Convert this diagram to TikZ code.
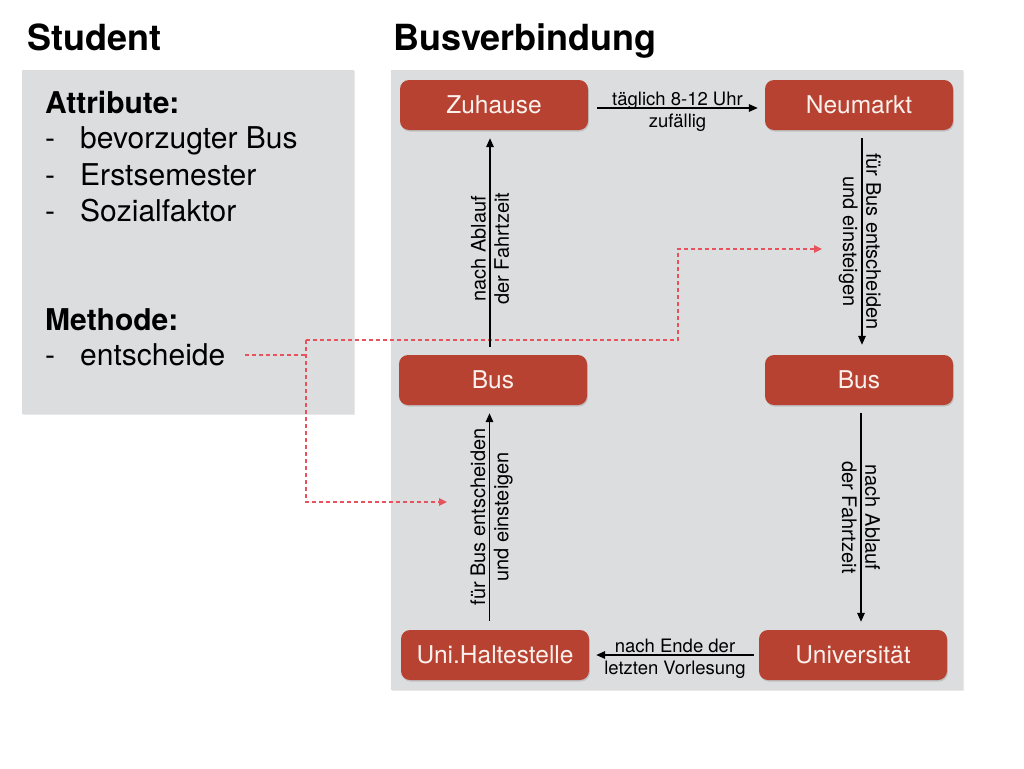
\documentclass[tikz,border=0pt]{standalone}
\usepackage{fontspec}
\setmainfont{TeX Gyre Heros}
\usetikzlibrary{arrows.meta,shadows}
\definecolor{panelgray}{RGB}{220,221,223}
\definecolor{busred}{RGB}{184,66,50}
\definecolor{dashred}{RGB}{232,82,92}
\definecolor{nodetext}{RGB}{250,240,236}
\tikzset{
  panel/.style={fill=panelgray, draw=none, drop shadow={opacity=0.18, shadow xshift=0.8pt, shadow yshift=-1.2pt}},
  station/.style={fill=busred, draw=none, rounded corners=9pt, minimum width=188pt, minimum height=50pt,
    text=nodetext, font=\fontsize{24.5}{28}\selectfont, inner sep=0pt,
    drop shadow={opacity=0.3, shadow xshift=0.8pt, shadow yshift=-1.5pt}},
  flow/.style={line width=1.6pt, -{Triangle[length=9pt,width=7.5pt]}},
  hlbl/.style={font=\fontsize{18.5}{21}\selectfont, inner xsep=0pt},
  htop/.style={hlbl, anchor=south, text depth=0pt, inner ysep=2pt},
  hbot/.style={hlbl, anchor=north, inner ysep=5pt},
  vlbl/.style={font=\fontsize{20}{22}\selectfont, inner xsep=0pt},
  vtop/.style={vlbl, anchor=south, text depth=0pt, inner ysep=3.5pt},
  vbot/.style={vlbl, anchor=north, inner ysep=3.5pt},
  reddash/.style={draw=dashred, line width=1.4pt, dash pattern=on 4pt off 3pt},
  redarrow/.style={reddash, -{Triangle[length=8pt,width=7.5pt]}},
  title/.style={font=\fontsize{36}{40}\selectfont\bfseries, anchor=base west, inner sep=0pt},
  head/.style={font=\fontsize{30}{34}\selectfont\bfseries, anchor=base west, inner sep=0pt},
  item/.style={font=\fontsize{30}{34}\selectfont, anchor=base west, inner sep=0pt},
}
\begin{document}
\begin{tikzpicture}[x=1pt,y=-1pt]
\useasboundingbox[fill=white] (0,0) rectangle (1024,768);

% titles
\node[title] (tstud) at (27,50) {Student};
\node[title] (tbus) at (393,50) {Busverbindung};

% panels
\node[panel, minimum width=332pt, minimum height=344pt, inner sep=0pt] (studpanel) at (188,242) {};
\node[panel, minimum width=572pt, minimum height=620pt, inner sep=0pt] (buspanel) at (677,380) {};

% student text
\node[head] (attr) at (45,113) {Attribute:};
\node[item] (d1) at (45,148) {-};
\node[item] (a1) at (80,148) {bevorzugter Bus};
\node[item] (d2) at (45,185) {-};
\node[item] (a2) at (80,185) {Erstsemester};
\node[item] (d3) at (45,221) {-};
\node[item] (a3) at (80,221) {Sozialfaktor};
\node[head] (meth) at (45,330) {Methode:};
\node[item] (d4) at (45,365) {-};
\node[item] (ent) at (80,365) {entscheide};

% stations
\node[station] (zu) at (494,105) {Zuhause};
\node[station] (neu) at (859,105) {Neumarkt};
\node[station] (busl) at (493,380) {Bus};
\node[station] (busr) at (859,380) {Bus};
\node[station] (uhs) at (495,655) {Uni.Haltestelle};
\node[station] (uni) at (853,655) {Universität};

% red dashed method links
\coordinate (m0) at (245,355);
\coordinate (m1) at (306,355);
\coordinate (c1) at (306,340);
\coordinate (c2) at (678,340);
\coordinate (c3) at (678,249);
\coordinate (t1) at (822,249);
\coordinate (c4) at (306,502);
\coordinate (t2) at (447,502);
\draw[reddash] (m0) -- (m1);
\draw[redarrow] (c1) -- (c4) -- (t2);
\draw[redarrow] (c1) -- (c2) -- (c3) -- (t1);

% flow arrows
\draw[flow] ([xshift=9pt,yshift=-3pt]zu.east) -- node[htop]{täglich 8-12 Uhr} node[hbot]{zufällig} ([xshift=-7pt,yshift=-3pt]neu.west);
\draw[flow] ([xshift=3pt,yshift=-8pt]neu.south) -- node[vtop, rotate=-90]{für Bus entscheiden} node[vbot, rotate=-90]{und einsteigen} ([xshift=3pt,yshift=10pt]busr.north);
\draw[flow] ([xshift=2pt,yshift=-8pt]busr.south) -- node[vtop, rotate=-90]{nach Ablauf} node[vbot, rotate=-90]{der Fahrtzeit} ([xshift=8pt,yshift=8pt]uni.north);
\draw[flow] ([xshift=-5pt]uni.west) -- node[htop]{nach Ende der} node[hbot]{letzten Vorlesung} ([xshift=7pt]uhs.east);
\draw[flow] ([xshift=-5.5pt,yshift=9pt]uhs.north) -- node[vtop, rotate=90]{für Bus entscheiden} node[vbot, rotate=90]{und einsteigen} ([xshift=-3.5pt,yshift=-8pt]busl.south);
\draw[flow] ([xshift=-3pt,yshift=8pt]busl.north) -- node[pos=0.47, vtop, rotate=90]{nach Ablauf} node[pos=0.47, vbot, rotate=90]{der Fahrtzeit} ([xshift=-4pt,yshift=-8pt]zu.south);
\end{tikzpicture}
\end{document}
